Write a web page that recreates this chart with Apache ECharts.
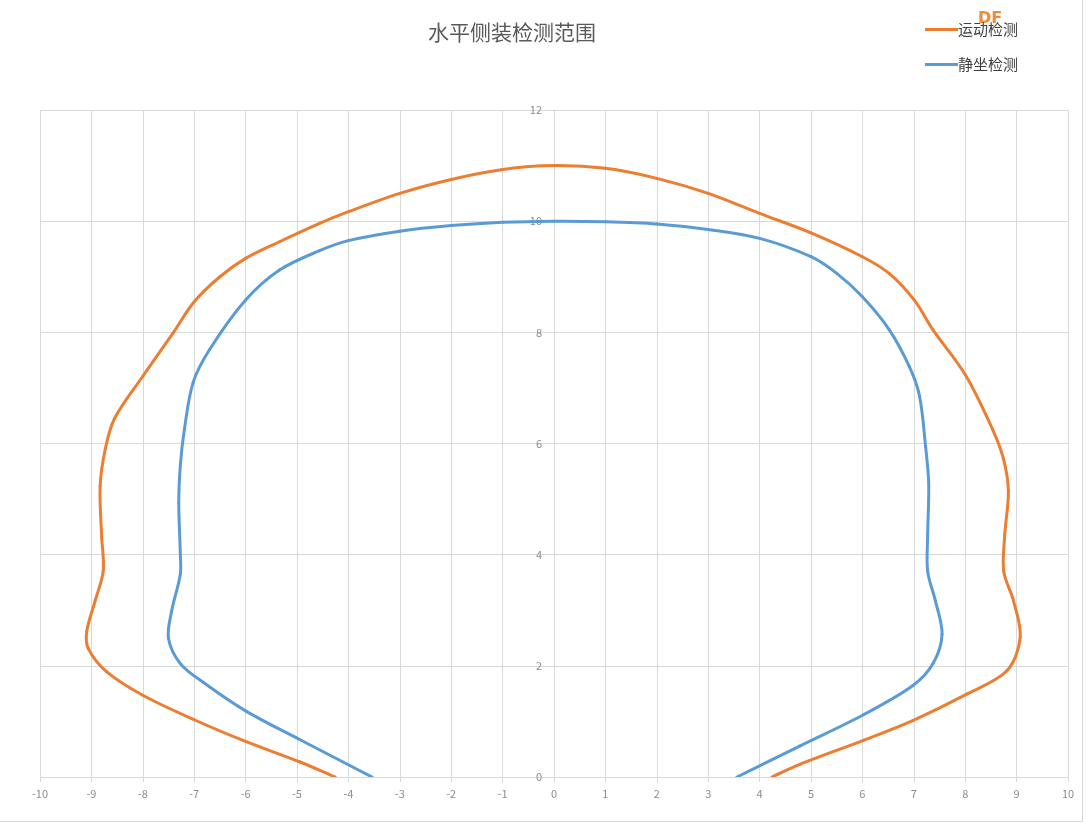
<!DOCTYPE html>
<html>
<head>
<meta charset="utf-8">
<title>水平侧装检测范围</title>
<script src="https://cdn.jsdelivr.net/npm/echarts@6/dist/echarts.min.js"></script>
<style>
	html, body { margin: 0; padding: 0; background: #fff; }
	#chart { width: 1086px; height: 825px; }
</style>
</head>
<body>
<div id="chart"></div>
<script>
// 运动检测 (orange), traced from bottom-left, over the top, down to bottom-right
var motionX = [-4.26, -4.94, -6.0, -7.0, -8.0, -8.7, -9.06, -9.09, -8.93, -8.77, -8.8, -8.83, -8.73, -8.55, -8.0, -7.41, -7.0, -6.5, -6.0, -5.34, -4.56, -4, -3, -2, -1, 0, 1, 2, 3, 4, 5, 6, 6.52, 7.01, 7.37, 8.0, 8.53, 8.74, 8.84, 8.77, 8.75, 8.94, 9.07, 8.81, 8.03, 6.99, 6.02, 4.79, 4.24];
var motionY = [0, 0.27, 0.64, 1.03, 1.47, 1.89, 2.31, 2.62, 3.16, 3.71, 4.32, 5.23, 5.9, 6.45, 7.21, 7.99, 8.55, 9.0, 9.33, 9.63, 9.96, 10.17, 10.5, 10.75, 10.93, 11, 10.95, 10.77, 10.5, 10.14, 9.79, 9.36, 9.06, 8.58, 8.05, 7.24, 6.26, 5.74, 5.15, 4.36, 3.7, 3.17, 2.51, 1.91, 1.49, 1.02, 0.66, 0.23, 0];

// 静坐检测 (blue)
var staticX = [-3.54, -4.94, -6.0, -6.82, -7.27, -7.5, -7.44, -7.27, -7.27, -7.3, -7.27, -7.19, -7.02, -6.7, -6.0, -5.34, -4.56, -4, -3, -2, -1, 0, 1, 2, 3, 4, 5, 5.5, 6, 6.52, 6.91, 7.11, 7.23, 7.29, 7.27, 7.27, 7.42, 7.55, 7.38, 6.99, 6.02, 4.79, 3.56];
var staticY = [0, 0.67, 1.19, 1.7, 2.04, 2.49, 2.98, 3.65, 4.01, 4.93, 5.6, 6.26, 7.1, 7.69, 8.58, 9.12, 9.47, 9.65, 9.82, 9.92, 9.98, 10, 9.99, 9.95, 9.85, 9.69, 9.36, 9.06, 8.64, 8.05, 7.39, 6.86, 5.94, 5.28, 4.36, 3.7, 3.17, 2.57, 2.05, 1.65, 1.12, 0.56, 0];

var seriesNames = ['运动检测', '静坐检测'];
var seriesColors = ['#ED7D31', '#5B9BD5'];

function zip(xs, ys) {
	var d = [];
	for (var i = 0; i < xs.length; i++) {
		d.push([xs[i], ys[i]]);
	}
	return d;
}

// each data item draws the spline piece from its point to the next one,
// like excel's smoothed scatter line (catmull-rom, no control point clamping)
function splineRenderer(xs, ys, color) {
	return function(params, api) {
		var n = xs.length;
		var i = params.dataIndex;
		if (i >= n - 1) {
			return;
		}
		var p = [];
		for (var k = i - 1; k <= i + 2; k++) {
			var j = Math.max(0, Math.min(n - 1, k));
			p.push(api.coord([xs[j], ys[j]]));
		}
		var s = 1 / 3;
		function dist(a, b) {
			return Math.sqrt((a[0] - b[0]) * (a[0] - b[0]) + (a[1] - b[1]) * (a[1] - b[1]));
		}
		var d01 = dist(p[0], p[1]), d12 = dist(p[1], p[2]), d23 = dist(p[2], p[3]);
		var r1 = d01 + d12 ? d12 / (d01 + d12) : 0;
		var r2 = d12 + d23 ? d12 / (d12 + d23) : 0;
		var cp1 = [p[1][0] + (p[2][0] - p[0][0]) * s * r1, p[1][1] + (p[2][1] - p[0][1]) * s * r1];
		var cp2 = [p[2][0] - (p[3][0] - p[1][0]) * s * r2, p[2][1] - (p[3][1] - p[1][1]) * s * r2];
		return {
			type: 'bezierCurve',
			shape: {
				x1: p[1][0], y1: p[1][1],
				x2: p[2][0], y2: p[2][1],
				cpx1: cp1[0], cpy1: cp1[1],
				cpx2: cp2[0], cpy2: cp2[1]
			},
			style: {
				fill: null,
				stroke: color,
				lineWidth: 3,
				lineCap: 'round'
			}
		};
	};
}

var chart = echarts.init(document.getElementById('chart'));
var gridColor = '#d9d9d9';
var labelColor = '#8c8c8c';

var option = {
	animation: false,
	color: seriesColors,
	textStyle: {
		fontFamily: '"Noto Sans CJK SC", "Noto Sans", sans-serif'
	},
	title: {
		text: '水平侧装检测范围',
		left: 423,
		top: 17,
		textStyle: {
			fontSize: 21,
			fontWeight: 'normal',
			color: '#595959'
		}
	},
	legend: {
		orient: 'vertical',
		left: 920,
		top: 17,
		icon: 'rect',
		itemWidth: 33,
		itemHeight: 3,
		itemGap: 20,
		textStyle: {
			fontSize: 15,
			color: '#404040',
			padding: [0, 0, 0, -5]
		},
		data: seriesNames
	},
	grid: {
		left: 40,
		right: 18,
		top: 110,
		bottom: 48,
		containLabel: false
	},
	xAxis: {
		type: 'value',
		min: -10,
		max: 10,
		interval: 1,
		axisLine: { show: true, lineStyle: { color: gridColor } },
		axisTick: { show: true, length: 5, lineStyle: { color: gridColor } },
		axisLabel: { color: labelColor, fontSize: 11, margin: 11 },
		splitLine: { show: true, lineStyle: { color: gridColor } }
	},
	yAxis: {
		type: 'value',
		min: 0,
		max: 12,
		interval: 2,
		position: 'left',
		// sit the axis on x = 0, half way across the plot
		offset: -514,
		axisLine: { show: true, onZero: false, lineStyle: { color: gridColor } },
		axisTick: { show: false },
		axisLabel: { color: labelColor, fontSize: 11, margin: 12 },
		splitLine: { show: true, lineStyle: { color: gridColor } }
	},
	graphic: [{
		type: 'line',
		shape: { x1: 1082.5, y1: 0, x2: 1082.5, y2: 821.5 },
		style: { stroke: '#d9d9d9', lineWidth: 1 },
		silent: true
	}, {
		type: 'line',
		shape: { x1: 0, y1: 821.5, x2: 1082.5, y2: 821.5 },
		style: { stroke: '#d9d9d9', lineWidth: 1 },
		silent: true
	}, {
		type: 'text',
		left: 978,
		top: 11,
		style: {
			text: 'DF',
			fill: '#F08A34',
			font: 'bold 16px "DejaVu Sans", sans-serif'
		},
		silent: true
	}],
	series: [{
		name: seriesNames[0],
		type: 'custom',
		coordinateSystem: 'cartesian2d',
		encode: { x: 0, y: 1 },
		itemStyle: { color: seriesColors[0] },
		clip: true,
		renderItem: splineRenderer(motionX, motionY, seriesColors[0]),
		data: zip(motionX, motionY)
	}, {
		name: seriesNames[1],
		type: 'custom',
		coordinateSystem: 'cartesian2d',
		encode: { x: 0, y: 1 },
		itemStyle: { color: seriesColors[1] },
		clip: true,
		renderItem: splineRenderer(staticX, staticY, seriesColors[1]),
		data: zip(staticX, staticY)
	}]
};

chart.setOption(option);
</script>
</body>
</html>
